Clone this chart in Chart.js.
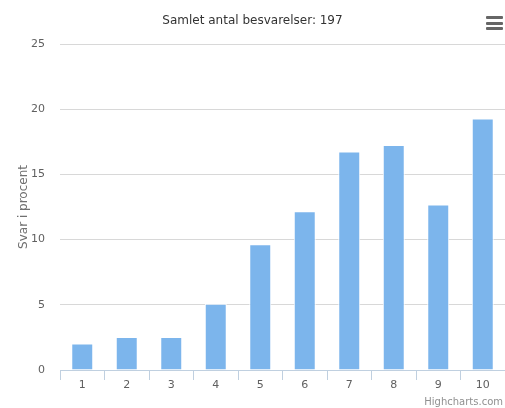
<!DOCTYPE html>
<html lang="da">
<head>
    <meta charset="UTF-8">
    <title>Samlet antal besvarelser</title>
    <script src="https://cdn.jsdelivr.net/npm/chart.js"></script>
    <style>
        body {
            margin: 0;
            background: #fff;
        }
        #wrap {
            position: relative;
            width: 505px;
            height: 408px;
        }
        #menu {
            position: absolute;
            left: 486px;
            top: 16px;
            width: 17px;
        }
        #menu div {
            height: 3px;
            background: #666;
            margin-bottom: 2.5px;
            border-radius: 1px;
        }
        #credits {
            position: absolute;
            right: 2px;
            top: 396px;
            line-height: 12px;
            font-family: "DejaVu Sans", Verdana, sans-serif;
            font-size: 10px;
            color: #909090;
        }
    </style>
</head>
<body>
    <div id="wrap">
        <canvas id="myChart" width="505" height="408"></canvas>
        <div id="menu"><div></div><div></div><div></div></div>
        <div id="credits">Highcharts.com</div>
    </div>

    <script>
        const categories = ['1', '2', '3', '4', '5', '6', '7', '8', '9', '10'];
        // procent af 197 besvarelser
        const svar = [2.03, 2.54, 2.54, 5.08, 9.64, 12.18, 16.75, 17.26, 12.69, 19.29];
        const yTicks = [0, 5, 10, 15, 20, 25];

        const font = '"DejaVu Sans", Verdana, sans-serif';
        const ctx = document.getElementById('myChart').getContext('2d');

        new Chart(ctx, {
            type: 'bar',
            data: {
                labels: categories,
                datasets: [{
                    label: 'Svar',
                    data: svar,
                    backgroundColor: '#7cb5ec',
                    borderColor: '#ffffff',
                    borderWidth: 1,
                    barPercentage: 0.494,
                    categoryPercentage: 1
                }]
            },
            options: {
                responsive: false,
                animation: false,
                layout: { padding: 0 },
                plugins: {
                    legend: { display: false },
                    tooltip: { enabled: false },
                    title: {
                        display: true,
                        text: 'Samlet antal besvarelser: 197',
                        color: '#333333',
                        font: { family: font, size: 12, weight: 'normal', lineHeight: 1.2 },
                        padding: { top: 14, bottom: 15.6 }
                    }
                },
                scales: {
                    x: {
                        afterFit: (scale) => { scale.height = 38; },
                        grid: {
                            drawOnChartArea: false,
                            drawTicks: true,
                            tickLength: 10,
                            color: '#C0D0E0'
                        },
                        border: { display: true, color: '#C0D0E0' },
                        ticks: {
                            color: '#606060',
                            padding: 0,
                            font: { family: font, size: 11, lineHeight: 1 }
                        }
                    },
                    y: {
                        min: 0,
                        max: 25,
                        afterFit: (scale) => { scale.width = 60; },
                        afterBuildTicks: (scale) => {
                            scale.ticks = yTicks.map(v => ({ value: v }));
                        },
                        grid: {
                            drawTicks: false,
                            color: '#D8D8D8'
                        },
                        border: { display: false },
                        ticks: {
                            color: '#606060',
                            padding: 15,
                            font: { family: font, size: 11 }
                        },
                        title: {
                            display: true,
                            text: 'Svar i procent',
                            color: '#707070',
                            font: { family: font, size: 12 },
                            padding: { top: 17, bottom: 0 }
                        }
                    }
                }
            }
        });
    </script>
</body>
</html>
